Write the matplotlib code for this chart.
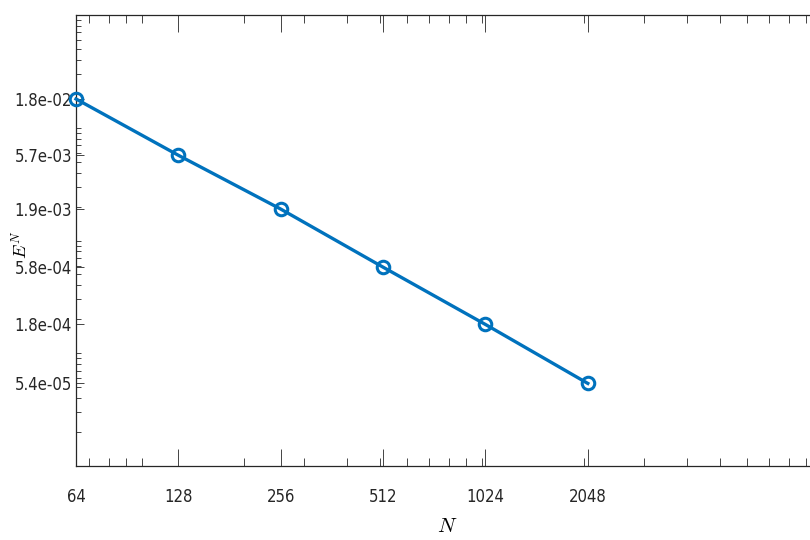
import matplotlib
matplotlib.use("Agg")
import matplotlib.pyplot as plt
from matplotlib.ticker import FixedLocator, FixedFormatter, LogLocator, NullFormatter

# data
N = [64, 128, 256, 512, 1024, 2048]
err = [1.8e-02, 5.7e-03, 1.9e-03, 5.8e-04, 1.8e-04, 5.4e-05]
xtick_labels = ["64", "128", "256", "512", "1024", "2048"]
ytick_labels = ["1.8e-02", "5.7e-03", "1.9e-03", "5.8e-04", "1.8e-04", "5.4e-05"]

plt.rcParams['font.family'] = ['DejaVu Sans']
plt.rcParams['font.stretch'] = 'condensed'
plt.rcParams['mathtext.fontset'] = 'cm'

fig = plt.figure(figsize=(8.1, 5.4), dpi=100)
ax = fig.add_axes([76 / 810, 74 / 540, 746 / 810, 451 / 540])

ax.loglog(N, err, '-o', color='#0072BD', lw=2.4, ms=9, mfc='none', mew=2.2, clip_on=False, zorder=5)

ax.set_xlim(64, 10000)
ax.set_ylim(1e-5, 1e-1)

ax.xaxis.set_major_locator(FixedLocator(N))
ax.xaxis.set_major_formatter(FixedFormatter(xtick_labels))
ax.xaxis.set_minor_locator(LogLocator(base=10, subs=range(1, 10)))
ax.xaxis.set_minor_formatter(NullFormatter())

ax.yaxis.set_major_locator(FixedLocator(err[::-1]))
ax.yaxis.set_major_formatter(FixedFormatter(ytick_labels[::-1]))
ax.yaxis.set_minor_locator(LogLocator(base=10, subs=range(1, 10)))
ax.yaxis.set_minor_formatter(NullFormatter())

ax.tick_params(which='both', direction='in', top=True, right=False, colors='#262626', labelsize=12)
ax.tick_params(axis='x', which='major', length=12, width=0.6, pad=16)
ax.tick_params(axis='x', which='minor', length=6, width=0.6)
ax.tick_params(axis='y', which='major', length=6, width=0.6, pad=3)
ax.tick_params(axis='y', which='minor', length=3.5, width=0.6)
for s in ['left', 'top', 'bottom']:
    ax.spines[s].set_color('#262626')
    ax.spines[s].set_linewidth(0.9)
ax.spines['right'].set_visible(False)

ax.set_xlabel(r'$N$', fontsize=15)
ax.xaxis.set_label_coords((447 - 76) / 746, -(516 - 466) / 451)
ax.set_ylabel(r'$E^N$', fontsize=13)
ax.yaxis.set_label_coords(-(76 - 31) / 746, (466 - 245) / 451)

fig.savefig("out.png", dpi=100)
